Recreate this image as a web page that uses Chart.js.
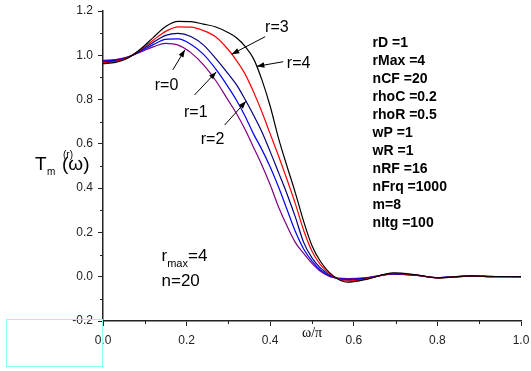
<!DOCTYPE html>
<html>
<head>
<meta charset="utf-8">
<script src="https://cdn.jsdelivr.net/npm/chart.js@4.4.1/dist/chart.umd.min.js"></script>
<style>
html, body { margin: 0; padding: 0; background: #fff; }
</style>
</head>
<body>
<canvas id="myChart" width="531" height="371"></canvas>
<script>
// omega / pi
const omega = [0, 0.03, 0.06, 0.09, 0.12, 0.15, 0.18, 0.21, 0.24, 0.27, 0.30, 0.32, 0.34, 0.36, 0.38, 0.40,
               0.42, 0.44, 0.46, 0.48, 0.50, 0.52, 0.55, 0.585, 0.63, 0.695, 0.75, 0.80, 0.88, 0.94, 1.0];

const tR0 = [0.977, 0.981, 0.993, 1.015, 1.038, 1.054, 1.046, 1.012, 0.958, 0.885, 0.795, 0.735, 0.665, 0.585, 0.505, 0.415,
             0.315, 0.230, 0.155, 0.105, 0.060, 0.025, -0.003, -0.008, -0.004, 0.012, 0.006, -0.004, 0.003, 0.000, 0.0];
const tR1 = [0.973, 0.978, 0.992, 1.018, 1.048, 1.072, 1.074, 1.050, 1.005, 0.937, 0.855, 0.795, 0.725, 0.645, 0.575, 0.495,
             0.405, 0.305, 0.205, 0.125, 0.070, 0.030, -0.002, -0.012, -0.006, 0.013, 0.006, -0.004, 0.003, 0.000, 0.0];
const tR2 = [0.970, 0.975, 0.991, 1.021, 1.058, 1.090, 1.099, 1.085, 1.047, 0.985, 0.915, 0.865, 0.800, 0.730, 0.655, 0.565,
             0.470, 0.375, 0.270, 0.155, 0.085, 0.040, 0.000, -0.016, -0.008, 0.014, 0.007, -0.004, 0.003, 0.000, 0.0];
const tR3 = [0.966, 0.972, 0.990, 1.025, 1.068, 1.108, 1.128, 1.127, 1.112, 1.083, 1.025, 0.975, 0.915, 0.835, 0.745, 0.645,
             0.545, 0.440, 0.330, 0.210, 0.115, 0.055, 0.003, -0.020, -0.010, 0.015, 0.007, -0.005, 0.004, 0.000, 0.0];
const tR4 = [0.962, 0.968, 0.988, 1.028, 1.080, 1.130, 1.153, 1.152, 1.141, 1.128, 1.102, 1.078, 1.040, 0.985, 0.890, 0.770,
             0.625, 0.500, 0.380, 0.250, 0.140, 0.070, 0.005, -0.025, -0.012, 0.017, 0.008, -0.005, 0.004, 0.001, 0.0];

const xTicks = [0, 0.2, 0.4, 0.6, 0.8, 1.0];
const xMinor = [0.1, 0.3, 0.5, 0.7, 0.9];
const yMinor = [-0.1, 0.1, 0.3, 0.5, 0.7, 0.9, 1.1];

const params = ['rD =1', 'rMax =4', 'nCF =20', 'rhoC =0.2', 'rhoR =0.5', 'wP =1', 'wR =1',
                'nRF =16', 'nFrq =1000', 'm=8', 'nItg =100'];

// curve labels: text position and arrow tail/head in data units
const curveLabels = [
    { text: 'r=0', at: [0.152, 0.861], from: [0.167, 0.934], to: [0.196, 1.025] },
    { text: 'r=1', at: [0.222, 0.742], from: [0.219, 0.821], to: [0.271, 0.925] },
    { text: 'r=2', at: [0.262, 0.617], from: [0.291, 0.685], to: [0.342, 0.792] },
    { text: 'r=3', at: [0.416, 1.123], from: [0.388, 1.084], to: [0.308, 1.005] },
    { text: 'r=4', at: [0.468, 0.961], from: [0.431, 0.971], to: [0.368, 0.950] }
];

function pts(ys) {
    return omega.map((x, i) => ({ x: x, y: ys[i] }));
}

const AXIS = '#222';
const FONT = "'Liberation Sans', Arial, sans-serif";

const extras = {
    id: 'extras',
    afterDraw(chart) {
        const c = chart.ctx;
        const xs = chart.scales.x, ys = chart.scales.y;
        const a = chart.chartArea;
        c.save();

        // minor ticks
        c.strokeStyle = AXIS;
        c.lineWidth = 1;
        c.beginPath();
        xMinor.forEach(v => {
            const px = Math.round(xs.getPixelForValue(v)) + 0.5;
            c.moveTo(px, a.bottom); c.lineTo(px, a.bottom + 3);
        });
        yMinor.forEach(v => {
            const py = Math.round(ys.getPixelForValue(v)) + 0.5;
            c.moveTo(a.left, py); c.lineTo(a.left - 3, py);
        });
        c.stroke();

        // arrows + labels
        c.fillStyle = '#000';
        c.strokeStyle = '#000';
        c.lineWidth = 1;
        c.font = '16px ' + FONT;
        c.textAlign = 'center';
        c.textBaseline = 'middle';
        curveLabels.forEach(l => {
            const x0 = xs.getPixelForValue(l.from[0]), y0 = ys.getPixelForValue(l.from[1]);
            const x1 = xs.getPixelForValue(l.to[0]), y1 = ys.getPixelForValue(l.to[1]);
            c.beginPath(); c.moveTo(x0, y0); c.lineTo(x1, y1); c.stroke();
            const ang = Math.atan2(y1 - y0, x1 - x0);
            c.beginPath();
            c.moveTo(x1, y1);
            c.lineTo(x1 - 8 * Math.cos(ang - 0.35), y1 - 8 * Math.sin(ang - 0.35));
            c.lineTo(x1 - 8 * Math.cos(ang + 0.35), y1 - 8 * Math.sin(ang + 0.35));
            c.closePath(); c.fill();
            c.fillText(l.text, xs.getPixelForValue(l.at[0]), ys.getPixelForValue(l.at[1]));
        });

        // r_max / n note
        c.textAlign = 'left';
        c.textBaseline = 'alphabetic';
        let nx = xs.getPixelForValue(0.140);
        let ny = ys.getPixelForValue(0.073);
        c.font = '17px ' + FONT;
        c.fillText('r', nx, ny);
        let w = c.measureText('r').width;
        c.font = '11px ' + FONT;
        c.fillText('max', nx + w, ny + 6);
        w += c.measureText('max').width;
        c.font = '17px ' + FONT;
        c.fillText('=4', nx + w, ny);
        c.fillText('n=20', nx, ny + 25);

        // parameter block
        c.font = 'bold 14px ' + FONT;
        c.textBaseline = 'middle';
        const px0 = xs.getPixelForValue(0.645);
        const py0 = ys.getPixelForValue(1.055);
        params.forEach((t, i) => c.fillText(t, px0, py0 + i * 18));

        // y title T_m^(r)(w)
        const ty = ys.getPixelForValue(0.505);
        const tx = a.left - 68;
        c.font = '19px ' + FONT;
        c.fillText('T', tx, ty);
        c.font = '10px ' + FONT;
        c.fillText('m', tx + 12, ty + 7);
        c.fillText('(r)', tx + 28, ty - 10);
        c.font = '19px ' + FONT;
        c.fillText('(\u03c9)', tx + 27, ty);

        // x title
        c.font = "14px 'Liberation Serif', 'Times New Roman', serif";
        c.textAlign = 'center';
        c.fillText('\u03c9/\u03c0', xs.getPixelForValue(0.5), a.bottom + 12);

        // cyan selection box
        c.strokeStyle = '#8ff';
        c.strokeRect(6.5, a.bottom - 1.5, a.left - 7, 47);
        c.restore();
    }
};

const ctx = document.getElementById('myChart').getContext('2d');
new Chart(ctx, {
    type: 'scatter',
    data: {
        datasets: [
            { label: 'r=4', data: pts(tR4), borderColor: '#000000' },
            { label: 'r=3', data: pts(tR3), borderColor: '#ff0000' },
            { label: 'r=2', data: pts(tR2), borderColor: '#000080' },
            { label: 'r=1', data: pts(tR1), borderColor: '#0000ff' },
            { label: 'r=0', data: pts(tR0), borderColor: '#800080' }
        ]
    },
    options: {
        responsive: false,
        animation: false,
        showLine: true,
        datasets: {
            scatter: { pointRadius: 0, borderWidth: 1.2, cubicInterpolationMode: 'monotone', fill: false }
        },
        layout: { padding: { left: 0, top: 11, right: 10, bottom: 0 } },
        plugins: { legend: { display: false }, tooltip: { enabled: false } },
        scales: {
            x: {
                type: 'linear',
                min: 0, max: 1,
                afterBuildTicks: s => { s.ticks = xTicks.map(v => ({ value: v })); },
                afterFit: s => { s.height = 50; s.paddingLeft = 0; s.paddingRight = 0; },
                border: { color: AXIS, width: 1.5 },
                grid: { drawOnChartArea: false, drawTicks: true, tickLength: 5, color: AXIS },
                ticks: {
                    color: '#222', padding: 7, maxRotation: 0,
                    font: { family: FONT, size: 12 },
                    callback: v => v.toFixed(1)
                }
            },
            y: {
                type: 'linear',
                min: -0.2, max: 1.2,
                ticks: {
                    stepSize: 0.2, color: '#222', padding: 5,
                    font: { family: FONT, size: 12 },
                    callback: v => (Math.abs(v) < 1e-9 ? 0 : v).toFixed(1)
                },
                afterFit: s => { s.width = 103; s.paddingTop = 0; s.paddingBottom = 0; },
                border: { color: AXIS, width: 1.5 },
                grid: { drawOnChartArea: false, drawTicks: true, tickLength: 5, color: AXIS }
            }
        }
    },
    plugins: [extras]
});
</script>
</body>
</html>
